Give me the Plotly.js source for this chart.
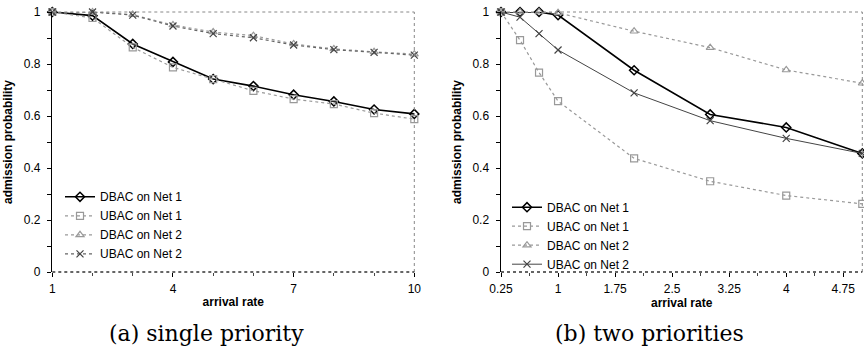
<!DOCTYPE html>
<html>
<head>
<meta charset="utf-8">
<script src="https://cdn.plot.ly/plotly-3.0.1.min.js"></script>
<style>html,body{margin:0;padding:0;background:#fff;}#chart{width:864px;height:349px;}</style>
</head>
<body>
<div id="chart"></div>
<script>
// ---- Data ----
var seriesNames = ['DBAC on Net 1', 'UBAC on Net 1', 'DBAC on Net 2', 'UBAC on Net 2'];

// (a) single priority
var rateA = [1, 2, 3, 4, 5, 6, 7, 8, 9, 10];
var dbacNet1A = [1.0, 0.986, 0.877, 0.808, 0.742, 0.715, 0.682, 0.656, 0.625, 0.608];
var ubacNet1A = [1.0, 0.977, 0.864, 0.787, 0.742, 0.697, 0.665, 0.646, 0.611, 0.588];
var dbacNet2A = [1.0, 1.0, 0.990, 0.950, 0.923, 0.909, 0.877, 0.858, 0.847, 0.838];
var ubacNet2A = [1.0, 1.0, 0.988, 0.946, 0.917, 0.901, 0.873, 0.855, 0.845, 0.834];

// (b) two priorities
var rateB = [0.25, 0.5, 0.75, 1, 2, 3, 4, 5];
var dbacNet1B = [1.0, 1.0, 1.0, 0.988, 0.776, 0.606, 0.556, 0.456];
var ubacNet1B = [1.0, 0.892, 0.767, 0.657, 0.437, 0.349, 0.294, 0.262];
var dbacNet2B = [1.0, 1.0, 1.0, 0.997, 0.926, 0.863, 0.777, 0.726];
var ubacNet2B = [1.0, 0.980, 0.917, 0.854, 0.689, 0.582, 0.514, 0.456];

var yTicks = [0, 0.2, 0.4, 0.6, 0.8, 1];
var yTickText = ['0', '0.2', '0.4', '0.6', '0.8', '1'];
var xTicksA = [1, 4, 7, 10];
var xTicksB = [0.25, 1, 1.75, 2.5, 3.25, 4, 4.75];
var captions = ['(a) single priority', '(b) two priorities'];

// ---- Styles ----
var styles = [
  {line: {color: '#000', width: 1.6, dash: 'solid'}, marker: {symbol: 'diamond-open', size: 7, color: '#000', line: {width: 1.5, color: '#000'}}},
  {line: {color: '#999', width: 1.2, dash: 'dot'}, marker: {symbol: 'square-open', size: 7, color: '#999', line: {width: 1.2, color: '#999'}}},
  {line: {color: '#999', width: 1.2, dash: 'dot'}, marker: {symbol: 'triangle-up-open', size: 7, color: '#999', line: {width: 1.2, color: '#999'}}},
  {line: {color: '#666', width: 1.2, dash: 'dot'}, marker: {symbol: 'x-thin-open', size: 7, color: '#444', line: {width: 1.2, color: '#444'}}}
];

function mk(x, y, i, xa, ya, leg, lineOverride) {
  var ln = Object.assign({}, styles[i].line, lineOverride || {});
  return {
    type: 'scatter', mode: 'lines+markers', x: x, y: y, name: seriesNames[i],
    xaxis: xa, yaxis: ya, legend: leg, line: ln, marker: styles[i].marker,
    cliponaxis: false
  };
}

var data = [
  mk(rateA, dbacNet1A, 0, 'x', 'y', 'legend'),
  mk(rateA, ubacNet1A, 1, 'x', 'y', 'legend'),
  mk(rateA, dbacNet2A, 2, 'x', 'y', 'legend'),
  mk(rateA, ubacNet2A, 3, 'x', 'y', 'legend'),
  mk(rateB, dbacNet1B, 0, 'x2', 'y2', 'legend2'),
  mk(rateB, ubacNet1B, 1, 'x2', 'y2', 'legend2'),
  mk(rateB, dbacNet2B, 2, 'x2', 'y2', 'legend2'),
  mk(rateB, ubacNet2B, 3, 'x2', 'y2', 'legend2', {dash: 'solid', color: '#444', width: 1})
];

var W = 864;
var tickFont = {family: 'Liberation Sans, Arial, sans-serif', size: 12, color: '#000'};
var titleFont = {family: 'Liberation Sans, Arial, sans-serif', size: 12, color: '#000', weight: 'bold'};

function xAxis(domain, range, tickvals, minorDtick, minorTick0) {
  return {
    domain: domain, range: range, tickvals: tickvals, ticktext: tickvals.map(String),
    ticks: 'outside', ticklen: 4, tickcolor: '#000', tickwidth: 1,
    minor: {ticks: 'outside', ticklen: 3, dtick: minorDtick, tick0: minorTick0, tickcolor: '#444'},
    showline: false, showgrid: false, zeroline: false, tickfont: tickFont, ticklabelstandoff: 2,
    title: {text: 'arrival rate', font: titleFont, standoff: 2}, automargin: false, fixedrange: true
  };
}
function yAxis(anchor) {
  return {
    anchor: anchor, range: [0, 1], tickvals: yTicks, ticktext: yTickText,
    ticks: 'outside', ticklen: 4, tickcolor: '#000',
    minor: {ticks: 'outside', ticklen: 4, dtick: 0.1, tickcolor: '#000'},
    showline: true, linecolor: '#000', linewidth: 1.5, showgrid: false, zeroline: false,
    tickfont: tickFont, ticklabelstandoff: 4,
    title: {text: 'admission probability', font: titleFont, standoff: 8}, automargin: false, fixedrange: true
  };
}

var dA = [52.3 / W, 414.3 / W];
var dB = [501 / W, 862.3 / W];

function frame(xr, yr) {
  return [
    {type: 'line', xref: xr + ' domain', yref: yr + ' domain', x0: 0, x1: 1, y0: 1, y1: 1, line: {color: '#888', width: 1, dash: 'dot'}},
    {type: 'line', xref: xr + ' domain', yref: yr + ' domain', x0: 1, x1: 1, y0: 0, y1: 1, line: {color: '#888', width: 1, dash: 'dot'}},
    {type: 'line', xref: xr + ' domain', yref: yr + ' domain', x0: 0, x1: 1, y0: 0, y1: 0, line: {color: '#333', width: 1.5, dash: 'dot'}}
  ];
}

var legendFont = {family: 'Liberation Sans, Arial, sans-serif', size: 12, color: '#000'};
var capFont = {family: 'DejaVu Serif, serif', size: 22, color: '#000'};

var layout = {
  width: 864, height: 349,
  margin: {l: 0, r: 0, t: 12.3, b: 76.7},
  paper_bgcolor: '#fff', plot_bgcolor: 'rgba(0,0,0,0)',
  showlegend: true,
  xaxis: xAxis(dA, [1, 10], xTicksA, 1, 1),
  yaxis: yAxis('x'),
  xaxis2: Object.assign(xAxis(dB, [0.25, 5], xTicksB, 0.375, 0.25), {anchor: 'y2'}),
  yaxis2: yAxis('x2'),
  legend: {x: 60 / W, xanchor: 'left', y: 0.345, yanchor: 'top', bgcolor: 'rgba(0,0,0,0)', borderwidth: 0, font: legendFont, tracegroupgap: 0},
  legend2: {x: 507 / W, xanchor: 'left', y: 0.305, yanchor: 'top', bgcolor: 'rgba(0,0,0,0)', borderwidth: 0, font: legendFont, tracegroupgap: 0},
  shapes: frame('x', 'y').concat(frame('x2', 'y2')),
  annotations: [
    {text: captions[0], xref: 'paper', yref: 'paper', x: 206.5 / W, y: -0.236, xanchor: 'center', yanchor: 'middle', showarrow: false, font: capFont},
    {text: captions[1], xref: 'paper', yref: 'paper', x: 649 / W, y: -0.236, xanchor: 'center', yanchor: 'middle', showarrow: false, font: capFont}
  ]
};

Plotly.newPlot('chart', data, layout, {staticPlot: true, displayModeBar: false});
</script>
</body>
</html>
